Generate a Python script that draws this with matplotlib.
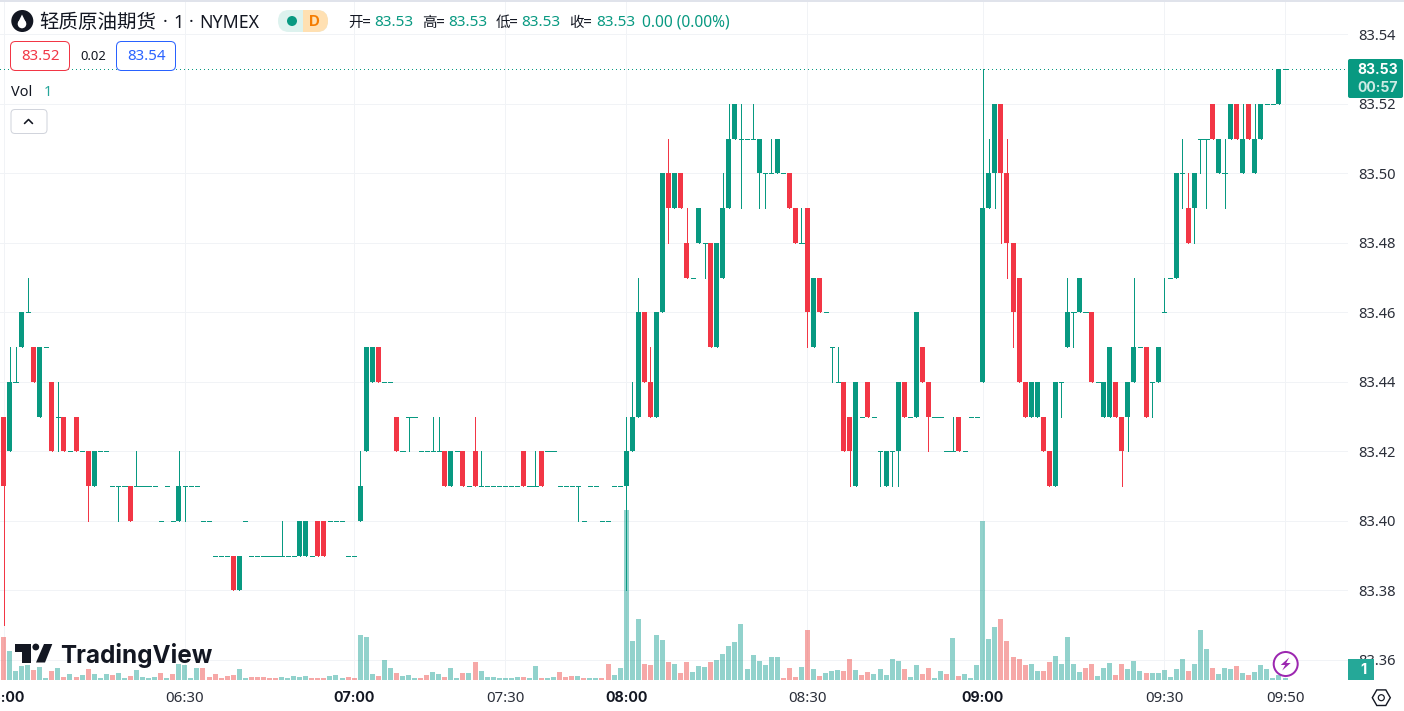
import matplotlib
matplotlib.use("Agg")
import matplotlib.pyplot as plt
import numpy as np
from matplotlib.patches import FancyBboxPatch, Rectangle, Circle, Polygon, RegularPolygon

# ---------- data (price = 83 + cents/100) ----------
opens = [43,42,44,45,46,45,43,45,44,43, 43,42,43,42,42,41,42,42,41,41,
         41,41,41,41,41,41,40,41,40,40, 41,41,41,40,40,39,39,39,39,38,
         40,39,39,39,39,39,39,39,39,39, 39,39,40,40,40,40,40,39,39,40,
         42,44,45,44,44,43,42,43,43,42, 42,42,42,42,41,42,42,41,42,41,
         41,41,41,41,41,41,42,41,41,42, 42,42,41,41,41,41,40,41,41,40,
         40,41,41,41,42,43,46,44,43,46, 50,49,50,48,47,48,48,48,45,47,
         49,51,51,51,51,50,50,50,50,50, 50,49,48,49,45,47,46,45,44,44,
         43,41,43,44,43,42,41,42,42,44, 43,43,45,44,43,43,42,42,43,42,
         43,43,44,49,50,52,50,48,47,44, 43,43,43,42,41,44,45,46,46,46,
         46,44,43,43,44,43,43,44,45,45, 44,44,46,47,47,50,49,49,51,51,
         52,50,50,51,52,50,52,50,51,52, 52,52,53]
closes = [41,44,44,46,46,44,45,45,42,43, 42,42,42,42,41,42,42,42,41,41,
          41,40,41,41,41,41,40,41,40,41, 41,41,41,40,40,39,39,39,38,39,
          40,39,39,39,39,39,39,39,39,40, 40,39,39,39,40,40,40,39,39,41,
          45,45,44,44,44,42,42,43,43,42, 42,42,42,41,42,42,41,41,41,41,
          41,41,41,41,41,41,41,41,41,41, 42,42,41,41,41,41,40,41,41,40,
          40,41,41,42,43,46,44,43,46,50, 49,50,49,47,47,49,48,45,48,49,
          51,52,51,51,51,51,50,50,51,50, 49,48,48,46,47,46,46,45,44,42,
          42,44,43,43,43,42,42,42,44,43, 43,46,44,43,43,43,42,42,42,42,
          43,43,49,50,52,50,48,46,44,43, 44,44,42,41,44,44,46,46,47,46,
          44,44,44,45,43,42,44,45,45,43, 44,45,46,47,50,50,48,50,51,51,
          51,51,50,52,51,51,51,51,52,52, 52,53,53]
highs = [43,45,45,46,47,45,45,45,44,44, 43,42,43,42,42,42,42,42,41,41,
         41,41,42,41,41,41,40,41,40,42, 41,41,41,40,40,39,39,39,39,39,
         40,39,39,39,39,39,40,39,39,40, 40,39,40,40,40,40,40,39,39,42,
         45,45,45,44,44,43,42,43,43,42, 42,43,43,42,42,42,42,41,43,42,
         41,41,41,41,41,41,42,41,42,42, 42,42,41,41,41,41,40,41,41,40,
         40,41,41,43,44,47,46,45,46,50, 51,50,50,49,47,49,48,48,48,50,
         52,52,52,51,52,51,50,51,51,50, 50,49,49,49,47,47,46,45,45,44,
         43,44,43,44,43,42,42,42,44,44, 43,46,45,44,43,43,42,43,43,42,
         43,43,53,51,52,52,51,48,47,44, 44,44,43,42,44,44,47,46,47,46,
         46,44,44,45,44,43,44,47,45,45, 44,45,47,47,50,51,50,50,51,51,
         52,51,51,52,52,52,52,52,52,52, 52,53,53]
lows = [37,42,44,45,46,44,43,45,42,42, 42,42,42,42,40,41,42,42,41,40,
        41,40,41,41,41,41,40,41,40,40, 40,41,41,40,40,39,39,39,38,38,
        40,39,39,39,39,39,39,39,39,39, 39,39,39,39,40,40,40,39,39,40,
        42,44,44,44,44,42,42,42,43,42, 42,42,42,41,41,42,41,41,41,41,
        41,41,41,41,41,41,41,41,41,41, 42,42,41,41,41,40,40,41,41,40,
        40,41,41,38,42,43,44,43,43,46, 48,49,49,47,47,48,47,45,45,47,
        49,51,49,51,51,49,49,50,50,50, 49,48,48,45,45,46,46,44,44,42,
        41,41,43,43,43,41,41,41,41,43, 43,43,44,42,43,43,42,42,42,42,
        43,43,44,49,49,48,47,45,44,43, 43,43,42,41,41,43,45,45,46,46,
        44,44,43,43,43,41,42,44,45,43, 43,44,46,47,47,49,48,48,50,49,
        51,50,49,51,51,50,51,50,51,52, 52,52,53]
volumes = [129,87,27,42,45,30,39,6,27,36, 9,18,9,15,33,18,6,18,15,21,
           6,12,30,9,6,9,21,6,18,48, 45,6,36,36,9,18,6,12,15,33,
           6,9,9,9,6,6,9,6,12,9, 12,6,6,6,12,15,6,9,6,135,
           129,18,12,60,36,21,12,15,6,6, 15,24,18,9,36,6,21,21,54,27,
           9,9,6,6,6,9,9,6,42,6, 6,9,24,9,12,12,6,6,6,6,
           48,15,36,510,117,183,48,45,135,120, 54,48,21,54,24,42,39,54,60,78,
           102,114,168,33,75,57,45,69,69,6, 36,9,39,150,33,12,21,27,30,27,
           63,30,15,24,18,33,15,63,57,33, 9,45,18,36,6,27,18,126,12,18,
           6,45,477,123,159,183,117,69,63,45, 48,27,27,54,72,48,129,48,24,36,
           48,12,36,51,15,48,33,57,27,21, 21,21,30,9,33,63,27,48,150,93,
           36,18,36,33,42,21,15,24,45,33, 6,15,6]
down_volume_bars = [0,5,8,10,12,14,18,21,26,28,33,34,35,36,37,38,41,42,43,44,45,51,52,53,57,58,
                    62,65,69,70,73,76,78,86,89,92,93,94,96,99,100,106,107,110,112,113,117,
                    129,130,131,133,135,139,140,142,143,149,152,153,156,158,165,166,167,168,169,
                    172,173,179,180,184,185,189,196,200,204,206]
price_ticks = [83.54,83.52,83.50,83.48,83.46,83.44,83.42,83.40,83.38,83.36]
time_tick_bars = [0,30,58,83,103,133,162,192,212]
time_tick_labels = ["06:00","06:30","07:00","07:30","08:00","08:30","09:00","09:30","09:50"]
bold_times = {"06:00","07:00","08:00","09:00"}
last_price = 83.53

# ---------- style ----------
UP, DOWN = "#089981", "#F23645"
VUP, VDOWN = "#26A69A", "#EF5350"
TXT = "#131722"
GRID = "#F1F3F6"
LATIN = "Noto Sans"
BOLD = "Inter"
CJK = ["Noto Sans CJK SC", "DejaVu Sans"]
px = 72/100

W, H = 1404, 711
fig = plt.figure(figsize=(W/100, H/100), dpi=100, facecolor="white")
rect = [0, (H-680)/H, 1348/W, 680/H]
XLIM = ((0-3.5)/6.045, (1348-3.5)/6.045)
YLIM = (83.54-(680-34.3)/3475, 83.54+34.3/3475)
bw = 5/6.045
dash_w = 4.2/6.045

x = np.arange(len(opens))
o, c, h, l = [83+np.array(a)/100 for a in (opens, closes, highs, lows)]

ax_bg = fig.add_axes(rect, zorder=1)
ax_vol = fig.add_axes(rect, zorder=2, facecolor="none")
ax = fig.add_axes(rect, zorder=3, facecolor="none")

ax_bg.set_xlim(XLIM); ax_bg.set_ylim(YLIM)
ax_bg.set_xticks(time_tick_bars); ax_bg.set_yticks(price_ticks)
ax_bg.tick_params(length=0, labelleft=False, labelbottom=False)
ax_bg.grid(True, color=GRID, lw=1*px)
for s in ax_bg.spines.values(): s.set_visible(False)

ax_vol.set_xlim(XLIM); ax_vol.set_ylim(0, 2040); ax_vol.axis("off")
vcols = [VDOWN if i in down_volume_bars else VUP for i in x]
ax_vol.bar(x, volumes, width=bw, color=vcols, alpha=0.5, linewidth=0)

ax.set_xlim(XLIM); ax.set_ylim(YLIM)
cols = np.where(c >= o, UP, DOWN)
ax.vlines(x, l, h, colors=cols, lw=1*px, antialiased=False, capstyle="butt")
body = c != o
ax.bar(x[body], np.abs(c-o)[body], bottom=np.minimum(o, c)[body], width=bw,
       color=cols[body], linewidth=0, zorder=3)
ax.hlines(c[~body], x[~body]-dash_w/2, x[~body]+dash_w/2, colors=UP, lw=1*px, antialiased=False,
          capstyle="butt", zorder=3)
ax.axhline(last_price, color=UP, lw=1*px, ls=(0, (1, 3)), antialiased=False)

ax.yaxis.tick_right()
ax.set_yticks(price_ticks, [f"{p:.2f}" for p in price_ticks])
ax.set_xticks(time_tick_bars, time_tick_labels)
ax.tick_params(axis="y", length=0, pad=10.5*px, labelsize=14.7*px, labelcolor="#2A2E39")
ax.tick_params(axis="x", length=0, pad=10.5*px, labelsize=15*px, labelcolor="#2A2E39")
for t in ax.get_yticklabels(): t.set_fontfamily(LATIN)
for t in ax.get_xticklabels():
    t.set_fontfamily(LATIN)
    if t.get_text() in bold_times:
        t.set_fontfamily(BOLD); t.set_fontweight("bold"); t.set_fontsize(14.2*px); t.set_color(TXT)
for s in ax.spines.values(): s.set_visible(False)

# ---------- overlay in pixel coordinates ----------
ov = fig.add_axes([0, 0, 1, 1], zorder=5, facecolor="none")
ov.set_xlim(0, W); ov.set_ylim(H, 0); ov.axis("off")

def T(xp, yp, s, size, color=TXT, ha="left", weight="normal", family=LATIN):
    return ov.text(xp, yp, s, fontsize=size*px, color=color, ha=ha, va="center",
                   fontweight=weight, family=family)

ov.plot([0, W], [0.5, 0.5], color="#E0E3EB", lw=2*px)

# title
ov.add_patch(Circle((22.3, 21), 11, fc=TXT, ec="none"))
ov.add_patch(Polygon([(22, 14.5), (17.8, 23), (26.2, 23)], fc="white", ec="none"))
ov.add_patch(Circle((22, 24), 4.3, fc="white", ec="none"))
T(39, 22, "轻质原油期货", 19.5, family=CJK)
T(165, 22.5, "·", 18, ha="center")
T(179, 22.5, "1", 18, ha="center")
T(191, 22.5, "·", 18, ha="center")
T(199, 22.5, "NYMEX", 17.7)

# status pill
pill = FancyBboxPatch((278, 10), 50, 22, boxstyle="round,pad=0,rounding_size=11",
                      fc="#DDF2EE", ec="none")
ov.add_patch(pill)
r = Rectangle((303, 10), 25, 22, fc="#FFE0B2", ec="none")
ov.add_patch(r); r.set_clip_path(pill)
ov.add_patch(Circle((292, 21), 5, fc=UP, ec="none"))
T(314, 21.5, "D", 15, color="#F57C00", ha="center", weight="bold", family=BOLD)

# OHLC legend
for xl, lab, xv in [(348, "开=", 374.5), (422, "高=", 448), (496, "低=", 521.5), (569, "收=", 596)]:
    T(xl, 22.5, lab, 14.5, family=CJK)
    T(xv, 22.5, "83.53", 15.3, color=UP)
T(642.5, 22.5, "0.00 (0.00%)", 15.5, color=UP)

# bid / ask
for x0, col, s in [(10.5, DOWN, "83.52"), (116.5, "#2962FF", "83.54")]:
    ov.add_patch(FancyBboxPatch((x0, 41.5), 59, 29, boxstyle="round,pad=0,rounding_size=5",
                                fc="white", ec=col, lw=1*px))
    T(x0+29.5, 57, s, 15, color=col, ha="center")
T(93, 57, "0.02", 13, ha="center")

# volume legend and collapse button
T(11, 92.5, "Vol", 14.5)
T(44, 92.5, "1", 14.5, color=VUP)
ov.add_patch(FancyBboxPatch((11, 109.5), 36, 24, boxstyle="round,pad=0,rounding_size=4",
                            fc="white", ec="#D1D4DC", lw=1*px))
ov.plot([24.5, 28.5, 32.5], [123.5, 119.5, 123.5], color=TXT, lw=1.6*px, solid_capstyle="round")

# last price label
ov.add_patch(FancyBboxPatch((1348, 59), 55, 39, boxstyle="round,pad=0,rounding_size=2",
                            fc=UP, ec="none"))
T(1378, 70, "83.53", 14, color="white", ha="center", weight="bold", family=BOLD)
T(1378, 88, "00:57", 14, color="#CDEBE5", ha="center", weight="bold", family=BOLD)

# volume label
ov.add_patch(Rectangle((1348, 659), 26, 21, fc="#25A898", ec="none"))
T(1363.5, 670.5, "1", 14.5, color="white", ha="center", weight="bold", family=BOLD)

# settings hexagon
ov.add_patch(RegularPolygon((1381.3, 697.7), 6, radius=9, orientation=np.pi/2,
                            fc="none", ec=TXT, lw=1.4*px))
ov.add_patch(Circle((1381.3, 697.7), 3, fc="none", ec=TXT, lw=1.2*px))

# lightning badge
ov.add_patch(Circle((1285.7, 664), 12, fc="white", ec="#9C27B0", lw=2*px))
ov.add_patch(Polygon(np.array([(3.5,-6.5),(-5,1),(-0.5,1),(-3.5,6.5),(5,-1),(0.5,-1)])+(1285.7, 664),
                     fc="#9C27B0", ec="none"))

# watermark
ov.add_patch(Polygon([(15,644),(30.7,644),(30.7,662.5),(22.3,662.5),(22.3,651.7),(15,651.7)], fc=TXT, ec="none"))
ov.add_patch(Circle((35.8, 647), 3.4, fc=TXT, ec="none"))
ov.add_patch(Polygon([(44,644),(52.3,644),(45,662.5),(36,662.5)], fc=TXT, ec="none"))
T(60.5, 655, "TradingView", 24.2, weight="bold", family="Inter")

fig.savefig("out.png", dpi=100)
